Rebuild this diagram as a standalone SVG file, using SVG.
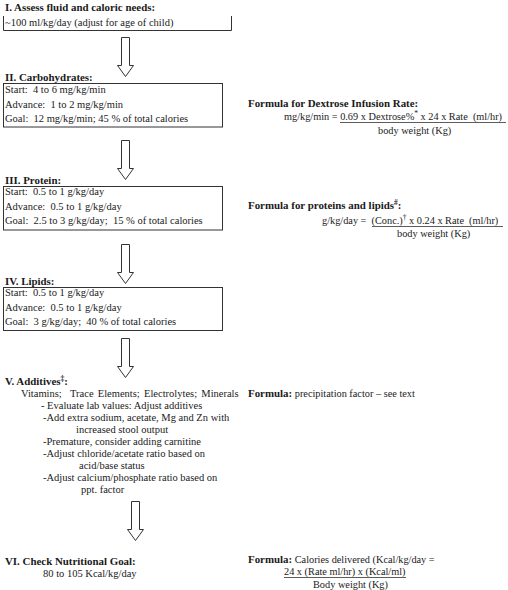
<svg xmlns="http://www.w3.org/2000/svg" xmlns:xlink="http://www.w3.org/1999/xlink" width="508" height="590" viewBox="0 0 508 590">
<style>
  text { font-family: "Liberation Serif", "Times New Roman", serif; font-size: 10.5px; fill: #1a1a1a; }
  .b { font-weight: bold; font-size: 10.9px; }
  .f { font-size: 10.3px; }
  .box { fill: none; stroke: #333; stroke-width: 1; }
  .ul { stroke: #333; stroke-width: 0.8; }
  .arrow { fill: #fff; stroke: #333; stroke-width: 1; }
  .sup { font-size: 7.5px; }
</style>
<defs>
  <polygon id="arr" class="arrow" points="-4,0 4,0 4,28 8,28 0,39 -8,28 -4,28"/>
</defs>
<rect width="508" height="590" fill="#fff"/>

<g id="connectors">
  <use xlink:href="#arr" href="#arr" transform="translate(125.5,37.5)"/>
  <use xlink:href="#arr" href="#arr" transform="translate(125.5,140.5)"/>
  <use xlink:href="#arr" href="#arr" transform="translate(125.5,244.5)"/>
  <use xlink:href="#arr" href="#arr" transform="translate(125.5,338.5)"/>
  <use xlink:href="#arr" href="#arr" transform="translate(135.5,501.5)"/>
</g>

<g id="step1">
  <text class="b" x="5" y="11">I. Assess fluid and caloric needs:</text>
  <path class="box" d="M3.5,16 V30.5 H231.5 V16"/>
  <text x="5" y="26">~100 ml/kg/day (adjust for age of child)</text>
</g>

<g id="step2">
  <text class="b" x="5" y="81">II. Carbohydrates:</text>
  <rect class="box" x="3.5" y="83.5" width="219" height="43.5"/>
  <text x="5" y="93" xml:space="preserve">Start:  4 to 6 mg/kg/min</text>
  <text x="5" y="107.5" xml:space="preserve">Advance:  1 to 2 mg/kg/min</text>
  <text x="5" y="122" xml:space="preserve">Goal:  12 mg/kg/min; 45 % of total calories</text>
</g>

<g id="formula-dextrose">
  <text class="b" x="248" y="107">Formula for Dextrose Infusion Rate:</text>
  <text class="f" x="284" y="120" xml:space="preserve">mg/kg/min = 0.69 x Dextrose%<tspan class="sup" dy="-4">*</tspan><tspan dy="4"> x 24 x Rate  (ml/hr)</tspan></text>
  <line class="ul" x1="340" y1="122.5" x2="506" y2="122.5"/>
  <text class="f" x="378" y="134">body weight (Kg)</text>
</g>

<g id="step3">
  <text class="b" x="5" y="183.5">III. Protein:</text>
  <rect class="box" x="3.5" y="186.5" width="219" height="43.5"/>
  <text x="5" y="195" xml:space="preserve">Start:  0.5 to 1 g/kg/day</text>
  <text x="5" y="209.5" xml:space="preserve">Advance:  0.5 to 1 g/kg/day</text>
  <text x="5" y="224" xml:space="preserve">Goal:  2.5 to 3 g/kg/day;  15 % of total calories</text>
</g>

<g id="formula-protein">
  <text class="b" x="248" y="209">Formula for proteins and lipids<tspan class="sup" dy="-4">#</tspan><tspan dy="4">:</tspan></text>
  <text class="f" x="322" y="224" xml:space="preserve">g/kg/day =  (Conc.)<tspan class="sup" dy="-4">†</tspan><tspan dy="4"> x 0.24 x Rate  (ml/hr)</tspan></text>
  <line class="ul" x1="372" y1="226.5" x2="503" y2="226.5"/>
  <text class="f" x="397" y="237">body weight (Kg)</text>
</g>

<g id="step4">
  <text class="b" x="5" y="285">IV. Lipids:</text>
  <rect class="box" x="3.5" y="287.5" width="219" height="43"/>
  <text x="5" y="296" xml:space="preserve">Start:  0.5 to 1 g/kg/day</text>
  <text x="5" y="310.5" xml:space="preserve">Advance:  0.5 to 1 g/kg/day</text>
  <text x="5" y="325" xml:space="preserve">Goal:  3 g/kg/day;  40 % of total calories</text>
</g>

<g id="step5">
  <text class="b" x="5" y="385">V. Additives<tspan class="sup" dy="-4">‡</tspan><tspan dy="4">:</tspan></text>
  <text x="21" y="397" xml:space="preserve" word-spacing="1.6">Vitamins;  Trace Elements; Electrolytes; Minerals</text>
  <text x="41" y="409">- Evaluate lab values: Adjust additives</text>
  <text x="43" y="421">-Add extra sodium, acetate, Mg and Zn with</text>
  <text x="76" y="433">increased stool output</text>
  <text x="43" y="445">-Premature, consider adding carnitine</text>
  <text x="43" y="457">-Adjust chloride/acetate ratio based on</text>
  <text x="79" y="469">acid/base status</text>
  <text x="43" y="481">-Adjust calcium/phosphate ratio based on</text>
  <text x="81" y="493">ppt. factor</text>
</g>

<g id="formula-additives">
  <text class="f" x="248" y="397"><tspan class="b">Formula:</tspan> precipitation factor – see text</text>
</g>

<g id="step6">
  <text class="b" x="5" y="565">VI. Check Nutritional Goal:</text>
  <text x="43" y="577">80 to 105 Kcal/kg/day</text>
</g>

<g id="formula-calories">
  <text class="f" x="248" y="563"><tspan class="b">Formula:</tspan> Calories delivered (Kcal/kg/day =</text>
  <text class="f" x="284" y="575">24 x (Rate ml/hr) x (Kcal/ml)</text>
  <line class="ul" x1="284" y1="577.5" x2="406" y2="577.5"/>
  <text class="f" x="313" y="588">Body weight (Kg)</text>
</g>
</svg>
